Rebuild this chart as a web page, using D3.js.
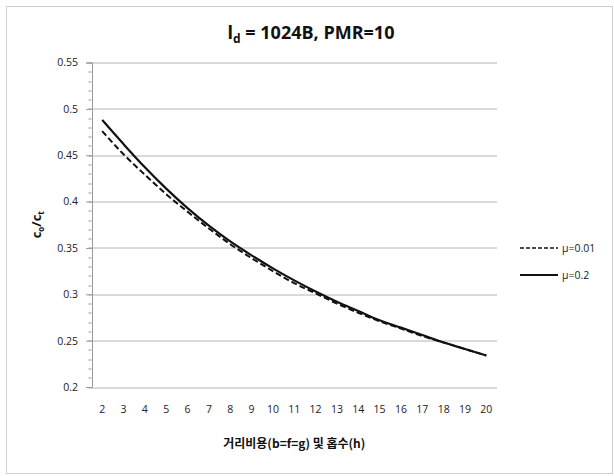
<!DOCTYPE html>
<html>
<head>
<meta charset="utf-8">
<script src="https://cdn.jsdelivr.net/npm/d3@7"></script>
<style>
  body { margin: 0; background: #fff; }
  text { font-family: "Open Sans", "Noto Sans", sans-serif; }
</style>
</head>
<body>
<div id="chartContainer"></div>
<script>
// categories on the x axis (distance cost / hop count)
var hops = [2, 3, 4, 5, 6, 7, 8, 9, 10, 11, 12, 13, 14, 15, 16, 17, 18, 19, 20];

// c_o / c_t for mu = 0.01 (dashed)
var mu001 = [0.476, 0.451, 0.429, 0.408, 0.389, 0.371, 0.354, 0.339, 0.325, 0.312,
             0.301, 0.290, 0.280, 0.271, 0.263, 0.255, 0.248, 0.241, 0.234];
// c_o / c_t for mu = 0.2 (solid)
var mu02 = [0.488, 0.462, 0.437, 0.414, 0.393, 0.374, 0.357, 0.342, 0.328, 0.315,
            0.303, 0.292, 0.282, 0.272, 0.264, 0.256, 0.248, 0.241, 0.234];

var yTicks = [0.2, 0.25, 0.3, 0.35, 0.4, 0.45, 0.5, 0.55];
var seriesNames = ["\u03bc=0.01", "\u03bc=0.2"];

var W = 614, H = 476;
var margin = { top: 62.5, right: 117, bottom: 89, left: 91.5 };
var width = W - margin.left - margin.right;
var height = H - margin.top - margin.bottom;

var svg = d3.select("#chartContainer")
    .append("svg")
    .attr("width", W)
    .attr("height", H);

// outer chart frame
svg.append("rect")
    .attr("x", 6.5).attr("y", 6.5)
    .attr("width", W - 8).attr("height", H - 9)
    .attr("fill", "none")
    .attr("stroke", "#cfcfcf")
    .attr("stroke-width", 1);

var g = svg.append("g")
    .attr("transform", `translate(${margin.left}, ${margin.top})`);

var x = d3.scaleBand()
    .domain(hops)
    .range([0, width]);

var y = d3.scaleLinear()
    .domain([0.2, 0.55])
    .range([height, 0]);

// horizontal gridlines
g.append("g")
    .selectAll("line")
    .data(yTicks)
    .enter()
    .append("line")
    .attr("x1", 0).attr("x2", width)
    .attr("y1", function (d) { return Math.round(y(d)) + 0.5 })
    .attr("y2", function (d) { return Math.round(y(d)) + 0.5 })
    .attr("stroke", "#b4b4b4")
    .attr("stroke-width", 1);

// y axis with minor ticks
var minor = d3.range(20, 56).map(function (d) { return d / 100 });
g.append("g")
    .selectAll("line")
    .data(minor)
    .enter()
    .append("line")
    .attr("x1", -3).attr("x2", 0)
    .attr("y1", function (d) { return Math.round(y(d)) + 0.5 })
    .attr("y2", function (d) { return Math.round(y(d)) + 0.5 })
    .attr("stroke", "#9a9a9a");

var yAxis = g.append("g")
    .attr("transform", "translate(0.5,0)")
    .call(d3.axisLeft(y)
        .tickValues(yTicks)
        .tickSize(6)
        .tickPadding(8)
        .tickFormat(function (d) { return String(d) }));
yAxis.select(".domain").attr("stroke", "#9a9a9a");
yAxis.selectAll(".tick line").attr("stroke", "#9a9a9a");
yAxis.selectAll("text")
    .attr("font-size", 10.5)
    .attr("fill", "#222")
    .style("font-family", "'Open Sans', sans-serif");

// x axis labels
var xAxis = g.append("g")
    .attr("transform", `translate(0, ${height})`)
    .call(d3.axisBottom(x).tickSize(0).tickPadding(19));
xAxis.select(".domain").remove();
xAxis.selectAll("text")
    .attr("font-size", 10.5)
    .attr("fill", "#222")
    .style("font-family", "'Open Sans', sans-serif");

// lines
var curveLine = d3.line()
    .x(function (d, i) { return x(hops[i]) + x.bandwidth() / 2 })
    .y(function (d) { return y(d) })
    .curve(d3.curveMonotoneX);

g.append("path")
    .datum(mu001)
    .attr("fill", "none")
    .attr("stroke", "#111")
    .attr("stroke-width", 2)
    .attr("stroke-dasharray", "6,3")
    .attr("d", curveLine);

g.append("path")
    .datum(mu02)
    .attr("fill", "none")
    .attr("stroke", "#111")
    .attr("stroke-width", 2.2)
    .attr("d", curveLine);

// title
var title = svg.append("text")
    .attr("x", 311)
    .attr("y", 39)
    .attr("text-anchor", "middle")
    .attr("font-size", 18)
    .attr("font-weight", "bold")
    .attr("fill", "#111");
title.append("tspan").text("l");
title.append("tspan").attr("dy", 4).attr("font-size", 12).text("d");
title.append("tspan").attr("dy", -4).text(" = 1024B, PMR=10");

// y title
var yTitle = svg.append("text")
    .attr("transform", `translate(41, ${margin.top + height / 2}) rotate(-90)`)
    .attr("text-anchor", "middle")
    .attr("font-size", 13)
    .attr("font-weight", "bold")
    .attr("fill", "#111");
yTitle.append("tspan").text("c");
yTitle.append("tspan").attr("dy", 3).attr("font-size", 8).text("o");
yTitle.append("tspan").attr("dy", -3).text("/c");
yTitle.append("tspan").attr("dy", 3).attr("font-size", 8).text("t");

// x title
svg.append("text")
    .attr("x", margin.left + width / 2)
    .attr("y", 448)
    .attr("text-anchor", "middle")
    .attr("font-size", 12)
    .attr("font-weight", "bold")
    .attr("fill", "#111")
    .style("font-family", "'Noto Sans CJK KR', sans-serif")
    .text("거리비용(b=f=g) 및 홉수(h)");

// legend
var legend = svg.append("g");
var legendY = [248, 275];
seriesNames.forEach(function (name, i) {
    legend.append("line")
        .attr("x1", 520).attr("x2", 558)
        .attr("y1", legendY[i]).attr("y2", legendY[i])
        .attr("stroke", "#111")
        .attr("stroke-width", i == 0 ? 1.5 : 1.8)
        .attr("stroke-dasharray", i == 0 ? "4,2" : null);
    legend.append("text")
        .attr("x", 562)
        .attr("y", legendY[i] + 4)
        .attr("font-size", 10.5)
        .attr("fill", "#222")
        .text(name);
});
</script>
</body>
</html>
